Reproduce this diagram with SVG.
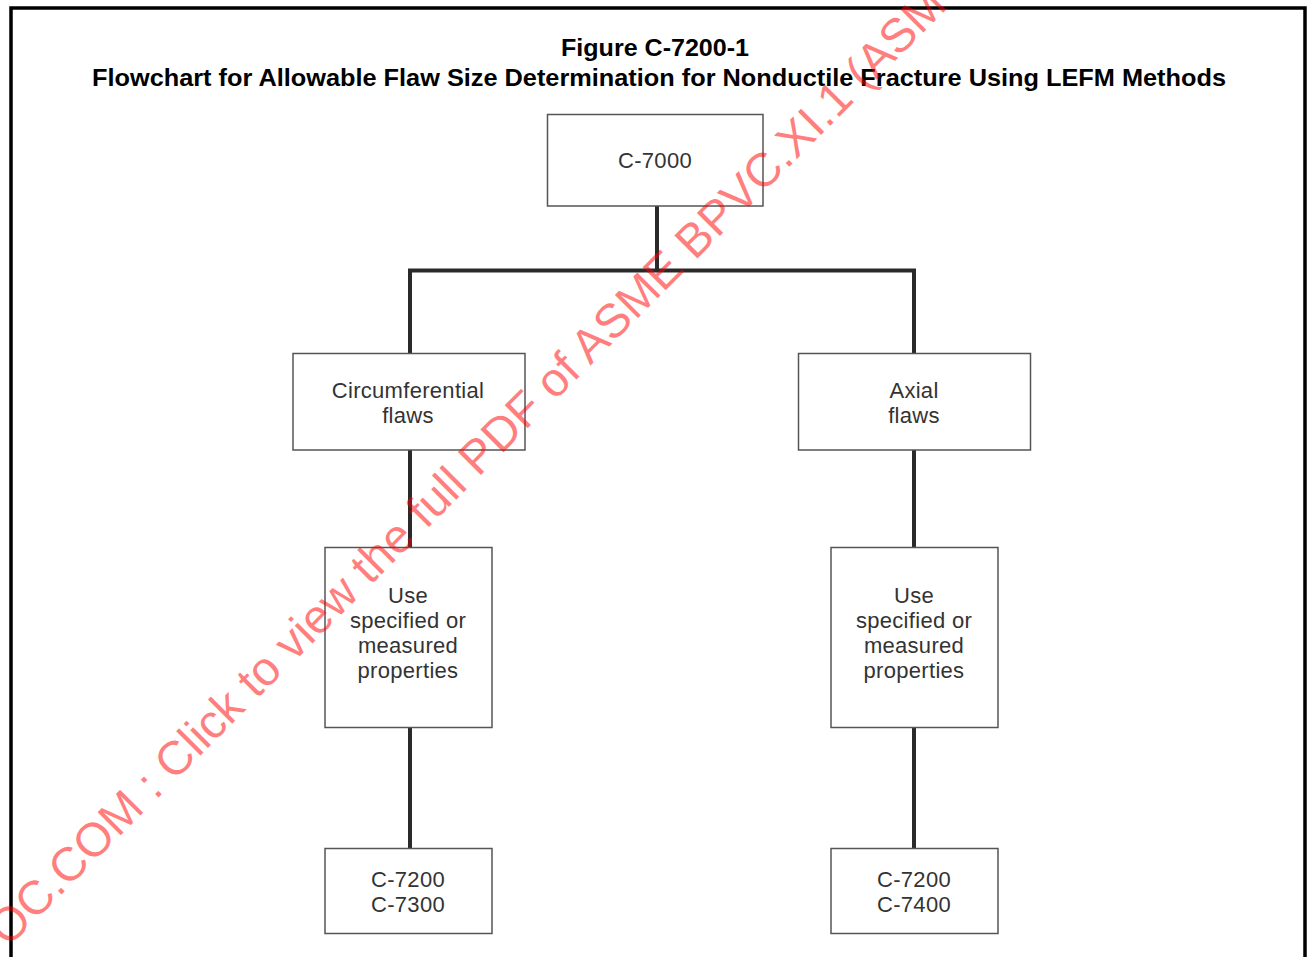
<svg xmlns="http://www.w3.org/2000/svg" width="1308" height="957" viewBox="0 0 1308 957">
  <style>
    .title { font-family: "Liberation Sans", Arial, sans-serif; font-weight: bold; font-size: 24px; fill: #000; }
    .box { fill: #fff; stroke: #555; stroke-width: 1.5; }
    .label { font-family: "Liberation Sans", Arial, sans-serif; font-size: 22px; fill: #333; text-anchor: middle; letter-spacing: 0.3px; }
    .wire { fill: none; stroke: #2a2a2a; stroke-width: 4; stroke-linecap: butt; stroke-linejoin: miter; }
    .mark { font-family: "Liberation Sans", Arial, sans-serif; font-size: 47.5px; fill: #ff0000; fill-opacity: 0.5; }
  </style>
  <rect x="0" y="0" width="1308" height="957" fill="#fff"/>

  <!-- page frame -->
  <path d="M11,960 V8 H1305 V960" fill="none" stroke="#000" stroke-width="3.5"/>

  <!-- heading -->
  <g id="heading">
    <text class="title" x="561" y="56" textLength="188" lengthAdjust="spacingAndGlyphs">Figure C-7200-1</text>
    <text class="title" x="92" y="85.5" textLength="1134" lengthAdjust="spacingAndGlyphs">Flowchart for Allowable Flaw Size Determination for Nonductile Fracture Using LEFM Methods</text>
  </g>

  <!-- connectors -->
  <g id="connectors">
    <path class="wire" d="M657,206 V270.5 M410,353 V270.5 H914 V353"/>
    <path class="wire" d="M410,450 V547 M914,450 V547"/>
    <path class="wire" d="M410,727.5 V848 M914,727.5 V848"/>
  </g>

  <g id="n-c7000">
    <rect class="box" x="547.5" y="114.5" width="215.5" height="91.5"/>
    <text class="label" x="655" y="168">C-7000</text>
  </g>

  <g id="n-circ">
    <rect class="box" x="293" y="353.5" width="232" height="96.5"/>
    <text class="label" x="408" y="398">Circumferential</text>
    <text class="label" x="408" y="423">flaws</text>
  </g>

  <g id="n-axial">
    <rect class="box" x="798.5" y="353.5" width="232" height="96.5"/>
    <text class="label" x="914" y="398">Axial</text>
    <text class="label" x="914" y="423">flaws</text>
  </g>

  <g id="n-props-circ">
    <rect class="box" x="325" y="547.5" width="167" height="180"/>
    <text class="label" x="408" y="603">Use</text>
    <text class="label" x="408" y="628">specified or</text>
    <text class="label" x="408" y="653">measured</text>
    <text class="label" x="408" y="678">properties</text>
  </g>

  <g id="n-props-axial">
    <rect class="box" x="831" y="547.5" width="167" height="180"/>
    <text class="label" x="914" y="603">Use</text>
    <text class="label" x="914" y="628">specified or</text>
    <text class="label" x="914" y="653">measured</text>
    <text class="label" x="914" y="678">properties</text>
  </g>

  <g id="n-c7300">
    <rect class="box" x="325" y="848.5" width="167" height="85"/>
    <text class="label" x="408" y="887">C-7200</text>
    <text class="label" x="408" y="912">C-7300</text>
  </g>

  <g id="n-c7400">
    <rect class="box" x="831" y="848.5" width="167" height="85"/>
    <text class="label" x="914" y="887">C-7200</text>
    <text class="label" x="914" y="912">C-7400</text>
  </g>

  <!-- diagonal stamp across the sheet -->
  <text class="mark" transform="translate(8,948) rotate(-45)">OC.COM : Click to view the full PDF of ASME BPVC.XI.1 (ASM</text>
</svg>
